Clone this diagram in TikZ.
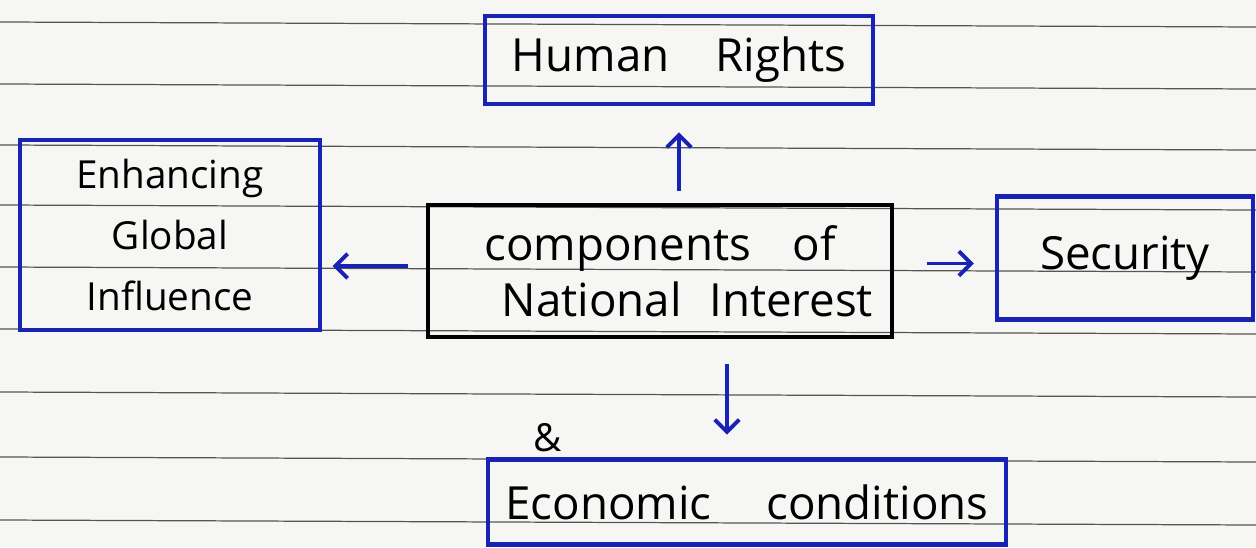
\documentclass[tikz,border=0pt]{standalone}
\usepackage{fontspec}
\setmainfont{Open Sans}
\usepackage{xcolor}
\usetikzlibrary{arrows.meta}
\definecolor{penblue}{RGB}{24,34,180}
\definecolor{paper}{RGB}{246,246,244}
\definecolor{ruling}{RGB}{85,85,85}

\begin{document}
\begin{tikzpicture}[x=0.02cm, y=-0.02cm,
  bluebox/.style={draw=penblue, line width=2.3pt, align=center, inner sep=0pt},
  blackbox/.style={draw=black, line width=2.3pt, align=center, inner sep=0pt},
  penarrow/.style={draw=penblue, line width=2.2pt, -{Straight Barb[length=7pt,width=14pt]}},
  bigtext/.style={font=\fontsize{26}{32}\selectfont},
  smalltext/.style={font=\fontsize{22}{35}\selectfont}]
%paper
\fill[paper] (0,0) rectangle (1256,547);
\useasboundingbox (0,0) rectangle (1256,547);
\foreach \ry in {22,84,145,205,267,329,392,457,520}
  \draw[ruling, line width=0.7pt] (0,\ry) -- (1256,\ry+5);

%boxes
\node[blackbox, bigtext, minimum width=9.28cm, minimum height=2.64cm] (cni) at (660,271) {components\hspace{0.9em}of\\\hspace{1.2em}National\hspace{0.6em}Interest};
\node[bluebox, bigtext, minimum width=7.76cm, minimum height=1.76cm] (hr) at (679,60) {Human\hspace{1em}Rights};
\node[bluebox, smalltext, minimum width=6cm, minimum height=3.8cm] (egi) at (170,235) {Enhancing\\Global\\Influence};
\node[bluebox, bigtext, minimum width=5.12cm, minimum height=2.46cm] (sec) at (1125,258) {Security};
\node[bluebox, bigtext, minimum width=10.38cm, minimum height=1.7cm] (eco) at (747,502) {Economic\hspace{1.2em}conditions};
\node[smalltext] (amp) at (548,438) {\&};

%arrows
\draw[penarrow, shorten <=7pt, shorten >=15pt] (cni.north -| hr.south) -- (hr.south);
\draw[penarrow, shorten <=10pt, shorten >=6pt] ([yshift=0.1cm]cni.west) -- ([yshift=0.1cm]cni.west -| egi.east);
\draw[penarrow, shorten <=19pt, shorten >=12pt] ([yshift=0.15cm]cni.east) -- ([yshift=0.15cm]cni.east -| sec.west);
\draw[penarrow, shorten <=14pt, shorten >=13pt] ([xshift=-0.4cm]eco.north |- cni.south) -- ([xshift=-0.4cm]eco.north);
\end{tikzpicture}
\end{document}
